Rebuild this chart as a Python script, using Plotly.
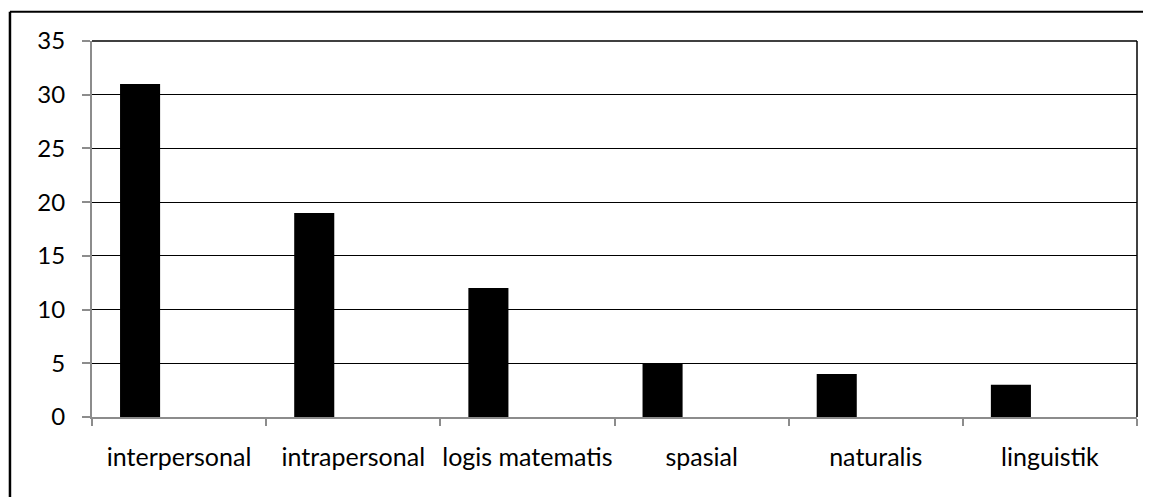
import plotly.graph_objects as go

categories = ["interpersonal", "intrapersonal", "logis matematis", "spasial", "naturalis", "linguistik"]
values = [31, 19, 12, 5, 4, 3]
y_ticks = [0, 5, 10, 15, 20, 25, 30, 35]

FONT = "Lato"
AXIS_GRAY = "#8c8c8c"

# the page body has an 8px margin, so the figure is sized/offset to compensate
fig = go.Figure(
    go.Bar(
        x=categories,
        y=values,
        marker=dict(color="black", line=dict(width=0)),
        width=0.23,
        offset=-0.339,
        hoverinfo="x+y",
    )
)

fig.update_layout(
    width=1143,
    height=489,
    margin=dict(l=84, r=14, t=33, b=80),
    paper_bgcolor="white",
    plot_bgcolor="white",
    showlegend=False,
    font=dict(family=FONT, size=25, color="black"),
    xaxis=dict(
        type="category",
        range=[-0.5, 5.5],
        tickson="boundaries",
        ticks="outside",
        ticklen=7,
        tickwidth=1.5,
        tickcolor=AXIS_GRAY,
        showline=True,
        linecolor=AXIS_GRAY,
        linewidth=2,
        showgrid=False,
        tickangle=0,
        automargin=False,
        ticklabelstandoff=17,
        tickfont=dict(family=FONT, size=25, color="black"),
    ),
    yaxis=dict(
        range=[0, 35],
        tickvals=y_ticks,
        ticks="outside",
        ticklen=8,
        tickwidth=1.5,
        tickcolor=AXIS_GRAY,
        showline=True,
        linecolor=AXIS_GRAY,
        linewidth=2,
        showgrid=True,
        gridcolor="black",
        gridwidth=1,
        zeroline=False,
        automargin=False,
        ticklabelstandoff=12,
        tickfont=dict(family=FONT, size=24, color="black"),
    ),
    shapes=[
        # right border of the plot area
        dict(type="line", xref="paper", yref="paper", x0=1, x1=1, y0=0, y1=1,
             line=dict(color="black", width=1.5)),
        # top border of plot area
        dict(type="line", xref="paper", yref="paper", x0=0, x1=1, y0=1, y1=1,
             line=dict(color="black", width=1.5)),
        # outer frame: left and top edges
        dict(type="line", xref="paper", yref="paper", x0=-0.0785, x1=-0.0785, y0=-0.3, y1=1.078,
             line=dict(color="black", width=2.5)),
        dict(type="line", xref="paper", yref="paper", x0=-0.0785, x1=1.1, y0=1.078, y1=1.078,
             line=dict(color="black", width=2)),
    ],
)

fig.write_html("out.html")
